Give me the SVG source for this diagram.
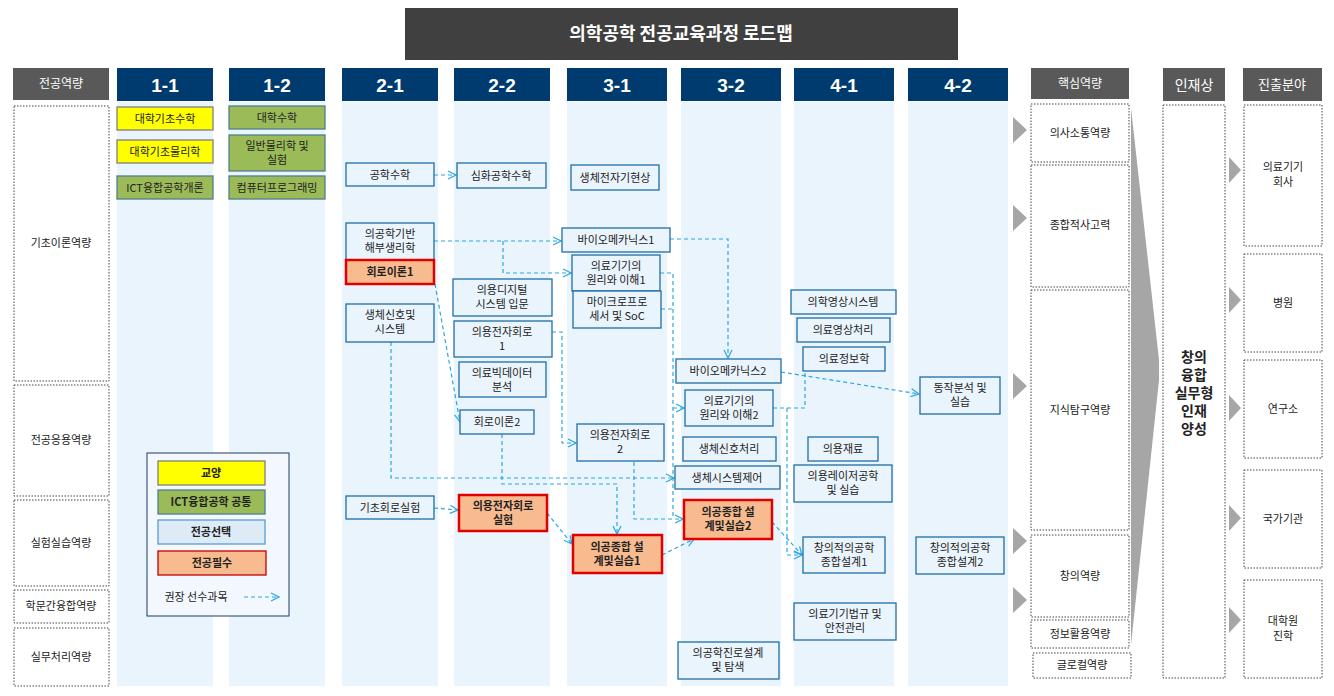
<svg xmlns="http://www.w3.org/2000/svg" width="1334" height="696" viewBox="0 0 1334 696">
<style>
text{font-family:"Noto Sans CJK KR","Noto Sans",sans-serif;font-size:11px;fill:#222;text-anchor:middle}
.col{fill:#EAF4FD}
.hd{fill:#003B6F}
.hdt{font-family:"Liberation Sans",sans-serif;font-size:19px;font-weight:bold;fill:#fff}
.gh{fill:#595959}
.ght{fill:#fff;font-size:12px}
.dot{fill:#fff;stroke:#444;stroke-width:1;stroke-dasharray:1.5 1.5}
.n{fill:#EAF4FD;stroke:#1F6EA5;stroke-width:1.3}
.y{fill:#FFFF00;stroke:#7F7F7F;stroke-width:1.3}
.g{fill:#9BBB59;stroke:#4F7F8C;stroke-width:1.3}
.r{fill:#F8BB8F;stroke:#E00000;stroke-width:2.5}
.s{fill:#DDEBF7;stroke:#5B9BD5;stroke-width:1.3}
.b{font-weight:bold}
.tl{font-weight:bold;font-size:14px}
.tri{fill:#A6A6A6}
.c{fill:none;stroke:#29A8E0;stroke-width:1.2;stroke-dasharray:4 3}
.ca{marker-end:url(#ah)}
</style>
<defs>
<marker id="ah" markerWidth="10" markerHeight="10" refX="9" refY="5" orient="auto" markerUnits="userSpaceOnUse">
<path d="M1,1 L9,5 L1,9" fill="none" stroke="#29A8E0" stroke-width="1.2"/>
</marker>
</defs>
<rect width="1334" height="696" fill="#fff"/>
<g id="title"><rect x="405" y="8" width="553" height="52" fill="#404040"/><text x="681" y="40" style="fill:#fff;font-size:18px;font-weight:bold">의학공학 전공교육과정 로드맵</text></g>
<g id="columns">
<rect class="col" x="117" y="102" width="96" height="584"/>
<rect class="col" x="229" y="102" width="96" height="584"/>
<rect class="col" x="342" y="102" width="96" height="584"/>
<rect class="col" x="454" y="102" width="96" height="584"/>
<rect class="col" x="567" y="102" width="100" height="584"/>
<rect class="col" x="681" y="102" width="100" height="584"/>
<rect class="col" x="794" y="102" width="100" height="584"/>
<rect class="col" x="908" y="102" width="100" height="584"/>
<rect class="hd" x="117" y="68" width="96" height="33"/><text class="hdt" x="165" y="92">1-1</text>
<rect class="hd" x="229" y="68" width="96" height="33"/><text class="hdt" x="277" y="92">1-2</text>
<rect class="hd" x="342" y="68" width="96" height="33"/><text class="hdt" x="390" y="92">2-1</text>
<rect class="hd" x="454" y="68" width="96" height="33"/><text class="hdt" x="502" y="92">2-2</text>
<rect class="hd" x="567" y="68" width="100" height="33"/><text class="hdt" x="617" y="92">3-1</text>
<rect class="hd" x="681" y="68" width="100" height="33"/><text class="hdt" x="731" y="92">3-2</text>
<rect class="hd" x="794" y="68" width="100" height="33"/><text class="hdt" x="844" y="92">4-1</text>
<rect class="hd" x="908" y="68" width="100" height="33"/><text class="hdt" x="958" y="92">4-2</text>
</g>
<g id="left">
<rect class="gh" x="13" y="68" width="96" height="32"/><text class="ght" x="61" y="88">전공역량</text>
<rect class="dot" x="14" y="106" width="95" height="275"/><text x="61" y="247">기초이론역량</text>
<rect class="dot" x="14" y="385" width="95" height="111"/><text x="61" y="444">전공응용역량</text>
<rect class="dot" x="14" y="500" width="95" height="86"/><text x="61" y="547">실험실습역량</text>
<rect class="dot" x="14" y="590" width="95" height="33"/><text x="61" y="610">학문간융합역량</text>
<rect class="dot" x="14" y="628" width="95" height="58"/><text x="61" y="661">실무처리역량</text>
</g>
<g id="core">
<rect class="gh" x="1031" y="68" width="98" height="31"/><text class="ght" x="1080" y="88">핵심역량</text>
<rect class="dot" x="1031" y="104" width="98" height="58"/><text x="1080" y="137">의사소통역량</text>
<rect class="dot" x="1031" y="165" width="98" height="122"/><text x="1080" y="229">종합적사고력</text>
<rect class="dot" x="1031" y="290" width="98" height="240"/><text x="1080" y="414">지식탐구역량</text>
<rect class="dot" x="1031" y="535" width="98" height="82"/><text x="1080" y="580">창의역량</text>
<rect class="dot" x="1031" y="620" width="98" height="28"/><text x="1080" y="638">정보활용역량</text>
<rect class="dot" x="1033" y="653" width="98" height="25"/><text x="1082" y="669">글로컬역량</text>
<polygon class="tri" points="1013,117 1027,130 1013,143"/>
<polygon class="tri" points="1013,205 1027,218 1013,231"/>
<polygon class="tri" points="1013,373 1027,386 1013,399"/>
<polygon class="tri" points="1013,528 1027,541 1013,554"/>
<polygon class="tri" points="1013,587 1027,600 1013,613"/>
<polygon class="tri" points="1131,108 1159,360 1159,380 1131,645"/>
</g>
<g id="talent">
<rect class="gh" x="1163" y="68" width="62" height="33"/><text class="ght" x="1194" y="90" style="font-size:14px">인재상</text>
<rect class="dot" x="1163" y="105" width="62" height="573"/>
<text class="tl" x="1194" y="362">창의</text>
<text class="tl" x="1194" y="380">융합</text>
<text class="tl" x="1194" y="398">실무형</text>
<text class="tl" x="1194" y="416">인재</text>
<text class="tl" x="1194" y="434">양성</text>
</g>
<g id="careers">
<rect class="gh" x="1243" y="68" width="79" height="33"/><text class="ght" x="1282" y="89" style="font-size:13px">진출분야</text>
<rect class="dot" x="1244" y="105" width="78" height="141"/><text x="1283" y="171">의료기기</text><text x="1283" y="186">회사</text>
<rect class="dot" x="1244" y="254" width="78" height="98"/><text x="1283" y="307">병원</text>
<rect class="dot" x="1244" y="360" width="78" height="98"/><text x="1283" y="413">연구소</text>
<rect class="dot" x="1244" y="470" width="78" height="98"/><text x="1283" y="523">국가기관</text>
<rect class="dot" x="1244" y="580" width="78" height="98"/><text x="1283" y="625">대학원</text><text x="1283" y="640">진학</text>
<polygon class="tri" points="1229,157 1241,170 1229,183"/>
<polygon class="tri" points="1229,287 1241,300 1229,313"/>
<polygon class="tri" points="1229,395 1241,408 1229,421"/>
<polygon class="tri" points="1229,505 1241,518 1229,531"/>
<polygon class="tri" points="1229,607 1241,620 1229,633"/>
</g>
<g id="connectors">
<path class="c ca" d="M434,175 H456"/>
<path class="c ca" d="M434,241 H561"/>
<path class="c ca" d="M503,241 V273 H571"/>
<path class="c ca" d="M435,284 L460,422"/>
<path class="c ca" d="M391,342 V478 H674"/>
<path class="c ca" d="M552,332 H562 V443 H576"/>
<path class="c ca" d="M502,434 V484 H617 V534"/>
<path class="c ca" d="M634,455 V519 H683"/>
<path class="c ca" d="M434,508 L458,510"/>
<path class="c ca" d="M547,513 L572,544"/>
<path class="c ca" d="M662,555 L694,539"/>
<path class="c ca" d="M670,239 H728 V358"/>
<path class="c" d="M660,273 H673 V519"/>
<path class="c" d="M661,309 H673"/>
<path class="c ca" d="M673,408 H684"/>
<path class="c ca" d="M781,372 L919,394"/>
<path class="c" d="M773,408 H805 V373"/>
<path class="c ca" d="M787,408 V555 H802"/>
<path class="c ca" d="M772,522 L802,555"/>
</g>
<g id="n11a"><rect class="y" x="117" y="107" width="96" height="23"/><text x="165" y="123">대학기초수학</text></g>
<g id="n11b"><rect class="y" x="117" y="140" width="96" height="23"/><text x="165" y="156">대학기초물리학</text></g>
<g id="n11c"><rect class="g" x="117" y="176" width="96" height="23"/><text x="165" y="192">ICT융합공학개론</text></g>
<g id="n12a"><rect class="g" x="229" y="106" width="96" height="23"/><text x="277" y="122">대학수학</text></g>
<g id="n12b"><rect class="g" x="229" y="135" width="96" height="36"/><text x="277" y="150">일반물리학 및</text><text x="277" y="164">실험</text></g>
<g id="n12c"><rect class="g" x="229" y="176" width="96" height="23"/><text x="277" y="192">컴퓨터프로그래밍</text></g>
<g id="n21a"><rect class="n" x="346" y="163" width="88" height="23"/><text x="390" y="179">공학수학</text></g>
<g id="n21b"><rect class="n" x="346" y="223" width="88" height="37"/><text x="390" y="238">의공학기반</text><text x="390" y="252">해부생리학</text></g>
<g id="n21c"><rect class="r" x="346" y="260" width="88" height="24"/><text class="b" x="390" y="276">회로이론1</text></g>
<g id="n21d"><rect class="n" x="346" y="304" width="88" height="38"/><text x="390" y="319">생체신호및</text><text x="390" y="333">시스템</text></g>
<g id="n21e"><rect class="n" x="346" y="496" width="88" height="23"/><text x="390" y="512">기초회로실험</text></g>
<g id="n22a"><rect class="n" x="457" y="163" width="89" height="25"/><text x="501" y="180">심화공학수학</text></g>
<g id="n22b"><rect class="n" x="453" y="279" width="99" height="37"/><text x="502" y="294">의용디지털</text><text x="502" y="308">시스템 입문</text></g>
<g id="n22c"><rect class="n" x="454" y="321" width="98" height="36"/><text x="502" y="336">의용전자회로</text><text x="502" y="350">1</text></g>
<g id="n22d"><rect class="n" x="459" y="362" width="87" height="35"/><text x="502" y="377">의료빅데이터</text><text x="502" y="391">분석</text></g>
<g id="n22e"><rect class="n" x="460" y="410" width="74" height="24"/><text x="497" y="426">회로이론2</text></g>
<g id="n22f"><rect class="r" x="459" y="495" width="88" height="36"/><text class="b" x="503" y="510">의용전자회로</text><text class="b" x="503" y="524">실험</text></g>
<g id="n31a"><rect class="n" x="571" y="165" width="88" height="25"/><text x="615" y="182">생체전자기현상</text></g>
<g id="n31b"><rect class="n" x="562" y="228" width="108" height="24"/><text x="616" y="244">바이오메카닉스1</text></g>
<g id="n31c"><rect class="n" x="572" y="255" width="88" height="36"/><text x="616" y="270">의료기기의</text><text x="616" y="284">원리와 이해1</text></g>
<g id="n31d"><rect class="n" x="573" y="291" width="88" height="37"/><text x="617" y="306">마이크로프로</text><text x="617" y="320">세서 및 SoC</text></g>
<g id="n31e"><rect class="n" x="577" y="424" width="87" height="37"/><text x="620" y="439">의용전자회로</text><text x="620" y="453">2</text></g>
<g id="n31f"><rect class="r" x="573" y="535" width="89" height="38"/><text class="b" x="617" y="551">의공종합 설</text><text class="b" x="617" y="565">계및실습1</text></g>
<g id="n32a"><rect class="n" x="676" y="359" width="105" height="24"/><text x="728" y="375">바이오메카닉스2</text></g>
<g id="n32b"><rect class="n" x="685" y="390" width="88" height="36"/><text x="729" y="405">의료기기의</text><text x="729" y="419">원리와 이해2</text></g>
<g id="n32c"><rect class="n" x="683" y="437" width="93" height="24"/><text x="729" y="453">생체신호처리</text></g>
<g id="n32d"><rect class="n" x="675" y="466" width="105" height="23"/><text x="727" y="482">생체시스템제어</text></g>
<g id="n32e"><rect class="r" x="684" y="500" width="88" height="39"/><text class="b" x="728" y="516">의공종합 설</text><text class="b" x="728" y="530">계및실습2</text></g>
<g id="n32f"><rect class="n" x="678" y="642" width="101" height="37"/><text x="728" y="657">의공학진로설계</text><text x="728" y="671">및 탐색</text></g>
<g id="n41a"><rect class="n" x="791" y="290" width="105" height="24"/><text x="843" y="306">의학영상시스템</text></g>
<g id="n41b"><rect class="n" x="797" y="318" width="93" height="24"/><text x="843" y="334">의료영상처리</text></g>
<g id="n41c"><rect class="n" x="803" y="347" width="82" height="24"/><text x="844" y="363">의료정보학</text></g>
<g id="n41d"><rect class="n" x="808" y="437" width="70" height="24"/><text x="843" y="453">의용재료</text></g>
<g id="n41e"><rect class="n" x="794" y="465" width="98" height="37"/><text x="843" y="480">의용레이저공학</text><text x="843" y="494">및 실습</text></g>
<g id="n41f"><rect class="n" x="803" y="537" width="82" height="36"/><text x="844" y="552">창의적의공학</text><text x="844" y="566">종합설계1</text></g>
<g id="n41g"><rect class="n" x="794" y="603" width="102" height="37"/><text x="845" y="618">의료기기법규 및</text><text x="845" y="632">안전관리</text></g>
<g id="n42a"><rect class="n" x="920" y="377" width="80" height="37"/><text x="960" y="392">동작분석 및</text><text x="960" y="406">실습</text></g>
<g id="n42b"><rect class="n" x="916" y="537" width="88" height="37"/><text x="960" y="552">창의적의공학</text><text x="960" y="566">종합설계2</text></g>
<g id="legend">
<rect x="147" y="453" width="142" height="163" fill="#F2F8FD" stroke="#1F3864" stroke-width="1"/>
<rect class="y" x="158" y="461" width="107" height="24"/><text class="b" x="211" y="477">교양</text>
<rect class="g" x="158" y="490" width="107" height="24"/><text class="b" x="211" y="506">ICT융합공학 공통</text>
<rect class="s" x="158" y="520" width="107" height="24"/><text class="b" x="211" y="536">전공선택</text>
<rect x="158" y="551" width="108" height="24" fill="#F8BB8F" stroke="#C00000" stroke-width="1.3"/><text class="b" x="212" y="567">전공필수</text>
<text x="196" y="601">권장 선수과목</text>
<path class="c ca" d="M244,597 H279"/>
</g>
</svg>
